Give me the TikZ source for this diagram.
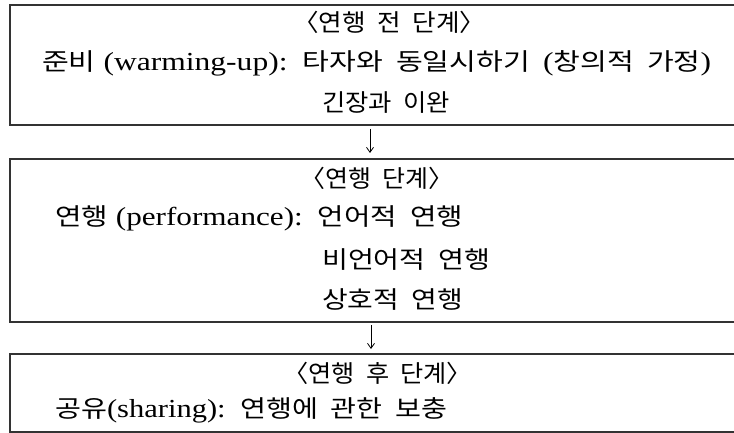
\documentclass[tikz,border=0pt]{standalone}
\usepackage{fontspec}
\setmainfont{Liberation Serif}
\newfontfamily\krfont{Noto Sans CJK KR}
\newcommand{\kr}[1]{{\fontsize{24pt}{28pt}\krfont\selectfont\spaceskip=0.45em\relax #1}}
\usetikzlibrary{arrows.meta}
\newlength\fitlen
\newcommand{\fitw}[2]{\settowidth\fitlen{#2}\pgfmathsetmacro\fitsx{#1/\fitlen}\scalebox{\fitsx}[1]{#2}}
\tikzset{
  boxline/.style={line width=1.1pt, draw=black!80},
  txt/.style={anchor=west, inner sep=0pt, font=\fontsize{26pt}{30pt}\selectfont},
  flow/.style={line width=0.8pt, -{Straight Barb[length=5pt,width=7pt]}}
}
\begin{document}
\begin{tikzpicture}[x=1pt,y=-1pt]
\useasboundingbox (0,0) rectangle (734,433);
% boxes (open to the right edge)
\draw[boxline] (734,5) -- (10,5) -- (10,125) -- (734,125);
\draw[boxline] (734,159) -- (10,159) -- (10,322) -- (734,322);
\draw[boxline] (734,354) -- (10,354) -- (10,432) -- (734,432);
% box 1
\node[txt] (a1) at (293,22) {\fitw{192}{\kr{〈연행 전 단계〉}}};
\node[txt] (a2) at (42,63) {\fitw{669}{\kr{준비} (warming-up):\kr{ 타자와 동일시하기 }(\kr{창의적 가정})}};
\node[txt] (a3) at (322,103) {\fitw{128}{\kr{긴장과 이완}}};
% box 2
\node[txt] (b1) at (300,178) {\fitw{153}{\kr{〈연행 단계〉}}};
\node[txt] (b2) at (55,218) {\fitw{408}{\kr{연행} (performance):\kr{ 언어적 연행}}};
\node[txt] (b3) at (322,260) {\fitw{168}{\kr{비언어적 연행}}};
\node[txt] (b4) at (322,300) {\fitw{141}{\kr{상호적 연행}}};
% box 3
\node[txt] (c1) at (283,373) {\fitw{189}{\kr{〈연행 후 단계〉}}};
\node[txt] (c2) at (55,410) {\fitw{392}{\kr{공유}(sharing):\kr{ 연행에 관한 보충}}};
% arrows
\coordinate (p1) at (370,129);
\coordinate (q1) at (370,153);
\coordinate (p2) at (371,325);
\coordinate (q2) at (371,349);
\draw[flow] (p1) -- (q1);
\draw[flow] (p2) -- (q2);
\end{tikzpicture}
\end{document}
